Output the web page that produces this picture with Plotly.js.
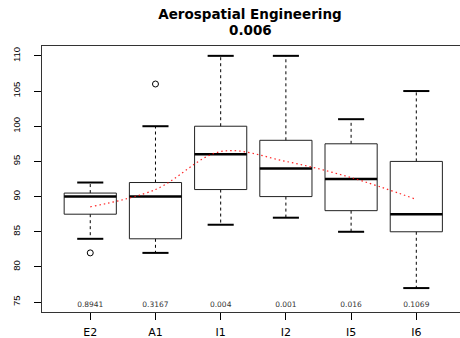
<!DOCTYPE html>
<html>
<head>
<meta charset="utf-8">
<script src="https://cdn.plot.ly/plotly-3.0.1.min.js"></script>
<style>html,body{margin:0;padding:0;background:#fff;}#chart{width:460px;height:338px;}</style>
</head>
<body>
<div id="chart"></div>
<script>
var categories = ['E2', 'A1', 'I1', 'I2', 'I5', 'I6'];
var lowerWhisker = [84, 82, 86, 87, 85, 77];
var q1 = [87.5, 84, 91, 90, 88, 85];
var medians = [90, 90, 96, 94, 92.5, 87.5];
var q3 = [90.5, 92, 100, 98, 97.5, 95];
var upperWhisker = [92, 100, 110, 110, 101, 105];
var outlierGroup = ['E2', 'A1'];
var outlierValues = [82, 106];
var means = [88.55, 91.0, 96.4, 95.0, 92.7, 89.6];
var pValues = ['0.8941', '0.3167', '0.004', '0.001', '0.016', '0.1069'];
var yTicks = [75, 80, 85, 90, 95, 100, 105, 110];
var chartTitle = 'Aerospatial Engineering';
var chartSubtitle = '0.006';

var HALF = 0.4, STAPLE = 0.2, TEXT_DROP = 0.4;
var pos = categories.map(function (c, i) { return i + 1; });

var boxX = [], boxY = [], medX = [], medY = [], whX = [], whY = [], stX = [], stY = [];
pos.forEach(function (p, i) {
  boxX.push(p - HALF, p + HALF, p + HALF, p - HALF, p - HALF, null);
  boxY.push(q1[i], q1[i], q3[i], q3[i], q1[i], null);
  medX.push(p - HALF, p + HALF, null);
  medY.push(medians[i], medians[i], null);
  whX.push(p, p, null, p, p, null);
  whY.push(q3[i], upperWhisker[i], null, q1[i], lowerWhisker[i], null);
  stX.push(p - STAPLE, p + STAPLE, null, p - STAPLE, p + STAPLE, null);
  stY.push(upperWhisker[i], upperWhisker[i], null, lowerWhisker[i], lowerWhisker[i], null);
});
var outX = outlierGroup.map(function (g) { return categories.indexOf(g) + 1; });

var yMin = Math.min.apply(null, yTicks);
var traces = [
  {x: whX, y: whY, mode: 'lines', line: {color: '#000', width: 1, dash: '3px,3px'}, hoverinfo: 'skip'},
  {x: stX, y: stY, mode: 'lines', line: {color: '#000', width: 2}, hoverinfo: 'skip'},
  {x: boxX, y: boxY, mode: 'lines', line: {color: '#222', width: 1}, hoverinfo: 'skip'},
  {x: medX, y: medY, mode: 'lines', line: {color: '#000', width: 2.5}, hoverinfo: 'skip'},
  {x: outX, y: outlierValues, mode: 'markers', marker: {symbol: 'circle-open', size: 6, color: '#000', line: {width: 1, color: '#000'}}, hoverinfo: 'skip'},
  {x: pos, y: means, mode: 'lines', line: {color: 'rgba(255,0,0,0.85)', width: 1.2, dash: '1.5px,3px', shape: 'spline', smoothing: 1}, hoverinfo: 'skip'},
  {x: pos, y: pos.map(function () { return yMin - TEXT_DROP; }), mode: 'text', text: pValues, textposition: 'middle center',
   textfont: {family: 'DejaVu Sans', size: 7.5, color: '#333'}, hoverinfo: 'skip'}
];

var layout = {
  width: 460, height: 338,
  margin: {l: 42, r: 0, t: 46, b: 26, pad: 0},
  paper_bgcolor: '#fff', plot_bgcolor: '#fff',
  showlegend: false,
  title: {text: '<b>' + chartTitle + '</b>', x: 250 / 460, xanchor: 'center', xref: 'container',
          y: 1 - 14.5 / 338, yanchor: 'middle', yref: 'container',
          font: {family: 'DejaVu Sans', size: 13.5, color: '#000'}},
  annotations: [{text: '<b>' + chartSubtitle + '</b>', xref: 'paper', yref: 'paper',
                 x: (250 - 42) / 418, y: 1 + (46 - 30) / 266, xanchor: 'center', yanchor: 'middle',
                 showarrow: false, font: {family: 'DejaVu Sans', size: 13.5, color: '#000'}}],
  xaxis: {range: [0.26, 6.67], tickvals: pos, ticktext: categories, ticks: 'outside', ticklen: 7, tickwidth: 1,
          tickcolor: '#000', showline: true, linecolor: '#333', linewidth: 1, mirror: true,
          showgrid: false, zeroline: false, fixedrange: true, ticklabelstandoff: 3,
          tickfont: {family: 'DejaVu Sans', size: 11, color: '#000'}},
  yaxis: {range: [73.6, 111.4], tickvals: yTicks, ticks: 'outside', ticklen: 7, tickwidth: 1,
          tickcolor: '#000', showline: true, linecolor: '#333', linewidth: 1, mirror: false,
          showgrid: false, zeroline: false, fixedrange: true, tickangle: -90, ticklabelstandoff: 10,
          tickfont: {family: 'Liberation Sans', size: 9.5, color: '#000'}}
};

Plotly.newPlot('chart', traces, layout, {staticPlot: true, displayModeBar: false});
</script>
</body>
</html>
